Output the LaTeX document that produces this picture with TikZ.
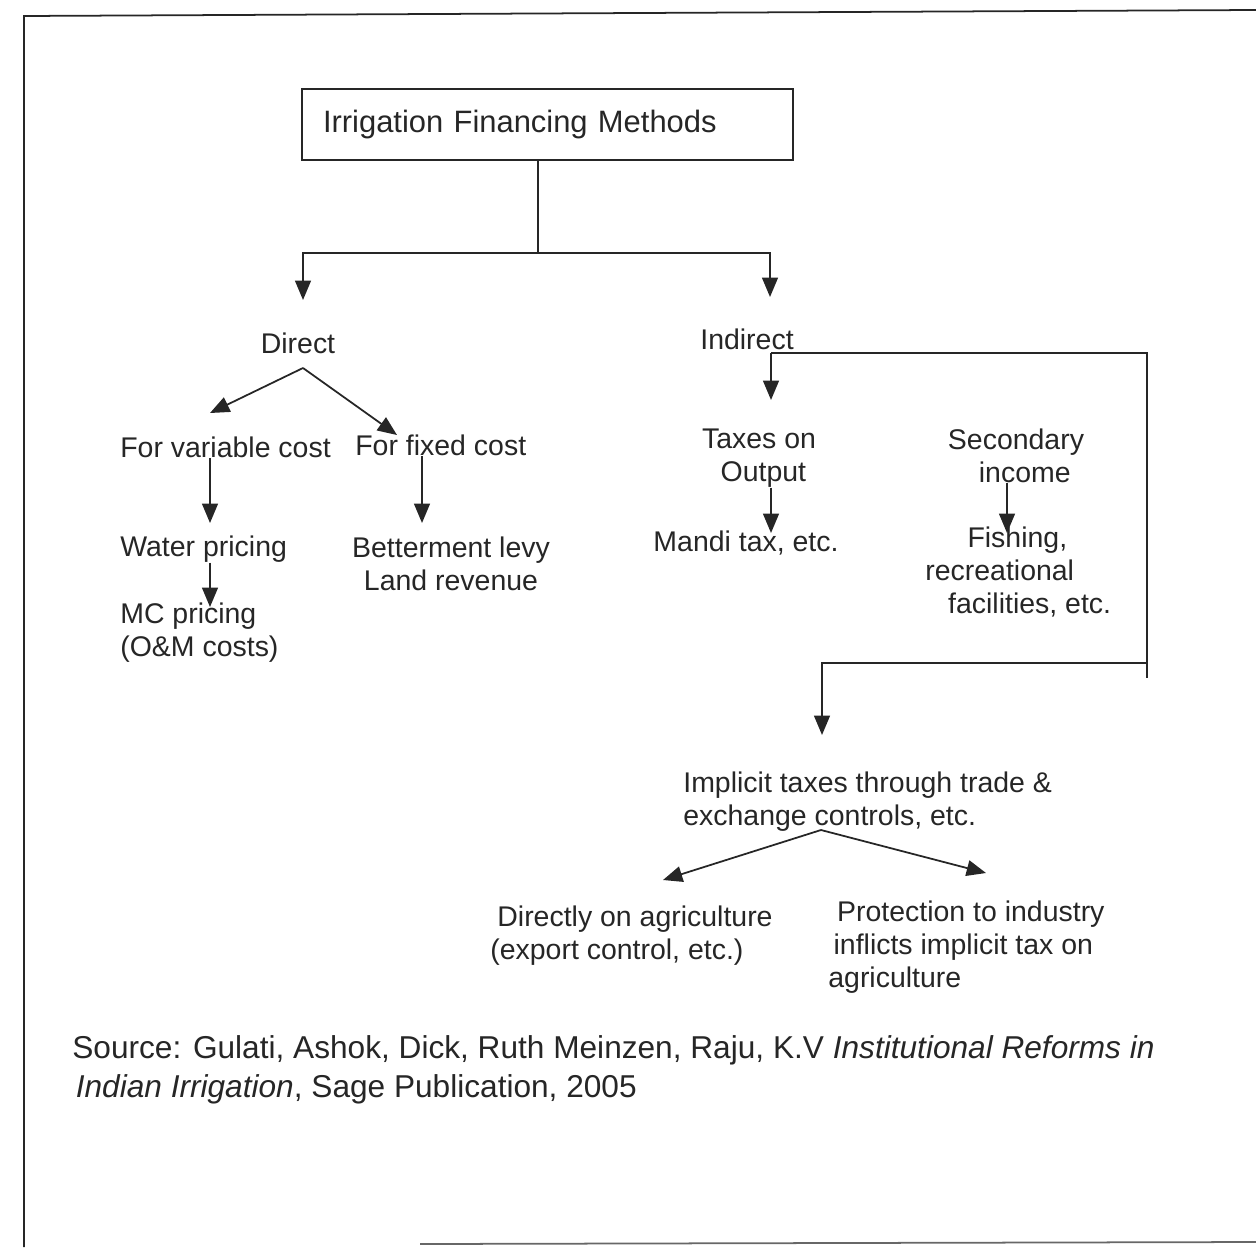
\documentclass[tikz,border=0pt]{standalone}
\usepackage{fontspec}
\setmainfont{Liberation Sans}
\usetikzlibrary{
  arrows.meta, % for Triangle arrow tip
  positioning % for relative placement
}
\definecolor{ink}{HTML}{262626}
\tikzset{
  method/.style={ % style for the top box
    rectangle,draw=ink,line width=1pt, % drawn as a plain rectangle
    minimum width=9.82cm,minimum height=1.42cm, % size of the box
    inner xsep=0.42cm, % text starts a little in from the left edge
    text width=8.98cm,align=left,
    font=\fontsize{17.6}{21}\selectfont,text=ink,
  },
  entry/.style={ % style for the plain text entries
    inner sep=0pt, % no padding round the text
    font=\fontsize{16.2}{18.8}\selectfont,text=ink,
  },
  wire/.style={ % style for the plain lines
    draw=ink,line width=1pt,
  },
  conn/.style={ % style for the arrows
    wire,-{Triangle[width=9pt,length=11pt]}, % filled triangle tip
  },
}
\begin{document}
\begin{tikzpicture}[x=0.02cm,y=-0.02cm]
  \useasboundingbox (0,0) rectangle (1256,1247);
  % frame of the page
  \draw[wire] (1256,10) -- (24,16) -- (24,1247);
  \draw[draw=ink!70,line width=1pt] (420,1244) -- (1256,1242);
  % nodes
  \node[method] (title) at (547.5,124.5) {Irrigation Financing Methods};
  \node[entry] (direct) at (298,343) {Direct};
  \node[entry] (indirect) at (747,339) {Indirect};
  \node[entry, anchor=west] (varcost) at (120,447) {For variable cost};
  \node[entry, anchor=west] (fixcost) at (355,445) {For fixed cost};
  \node[entry, anchor=west] (water) at (120,549) {Water pricing};
  \node[entry, align=center] (better) at (451,564) {Betterment levy\\Land revenue};
  \node[entry, anchor=west, align=left] (mc) at (120,632.5) {MC pricing\\(O\&M costs)};
  \node[entry, align=center] (taxout) at (759,458) {Taxes on\\\hspace*{5pt}Output};
  \node[entry] (mandi) at (746,543) {Mandi tax, etc.};
  \node[entry, align=center] (second) at (1016,456) {Secondary\\\hspace*{10pt}income};
  \node[entry, anchor=west, align=left] (fishing) at (925,572) {\hspace*{24pt}Fishing,\\recreational\\\hspace*{13pt}facilities, etc.};
  \node[entry, anchor=west, align=left] (implicit) at (683,801.5) {Implicit taxes through trade \&\\exchange controls, etc.};
  \node[entry, anchor=west, align=left] (directagr) at (490,935.5) {\hspace*{4pt}Directly on agriculture\\(export control, etc.)};
  \node[entry, anchor=west, align=left] (protect) at (828,947) {\hspace*{5pt}Protection to industry\\\hspace*{3pt}inflicts implicit tax on\\agriculture};
  \node[entry, anchor=west, align=left, font=\fontsize{18}{22.5}\selectfont] (source) at (72,1070) {Source: Gulati, Ashok, Dick, Ruth Meinzen, Raju, K.V \textit{Institutional Reforms in}\\\hspace*{2pt}\textit{Indian Irrigation}, Sage Publication, 2005};
  % bends and arrow tips
  \coordinate (split) at (538,253);
  \coordinate (dtip) at (303,300);
  \coordinate (itip) at (770,297);
  \coordinate (dsplit) at (303,368);
  \coordinate (vartip) at (210,413);
  \coordinate (fixtip) at (397,435);
  \coordinate (vtip) at (210,523);
  \coordinate (ftip) at (422,523);
  \coordinate (mtip) at (210,607);
  \coordinate (istart) at (771,353);
  \coordinate (iend) at (1147,678);
  \coordinate (ijoin) at (1147,663);
  \coordinate (ttip) at (771,400);
  \coordinate (mtaxtip) at (771,533);
  \coordinate (stip) at (1007,533);
  \coordinate (imptip) at (822,735);
  \coordinate (isplit) at (821,830);
  \coordinate (agrtip) at (663,880);
  \coordinate (prottip) at (986,873);
  % connections
  \draw[wire] (title.south -| split) -- (split);
  \draw[conn] (split) -| (dtip);
  \draw[conn] (split) -| (itip);
  \draw[conn] (dsplit) -- (vartip);
  \draw[conn] (dsplit) -- (fixtip);
  \draw[conn] (varcost.south -| vtip) -- (vtip);
  \draw[conn] (fixcost.south -| ftip) -- (ftip);
  \draw[conn] (water.south -| mtip) -- (mtip);
  \draw[wire] (istart) -| (iend);
  \draw[conn] (istart) -- (ttip);
  \draw[conn] (taxout.south -| mtaxtip) -- (mtaxtip);
  \draw[conn] (second.south -| stip) -- (stip);
  \draw[conn] (ijoin) -| (imptip);
  \draw[conn] (isplit) -- (agrtip);
  \draw[conn] (isplit) -- (prottip);
\end{tikzpicture}
\end{document}
